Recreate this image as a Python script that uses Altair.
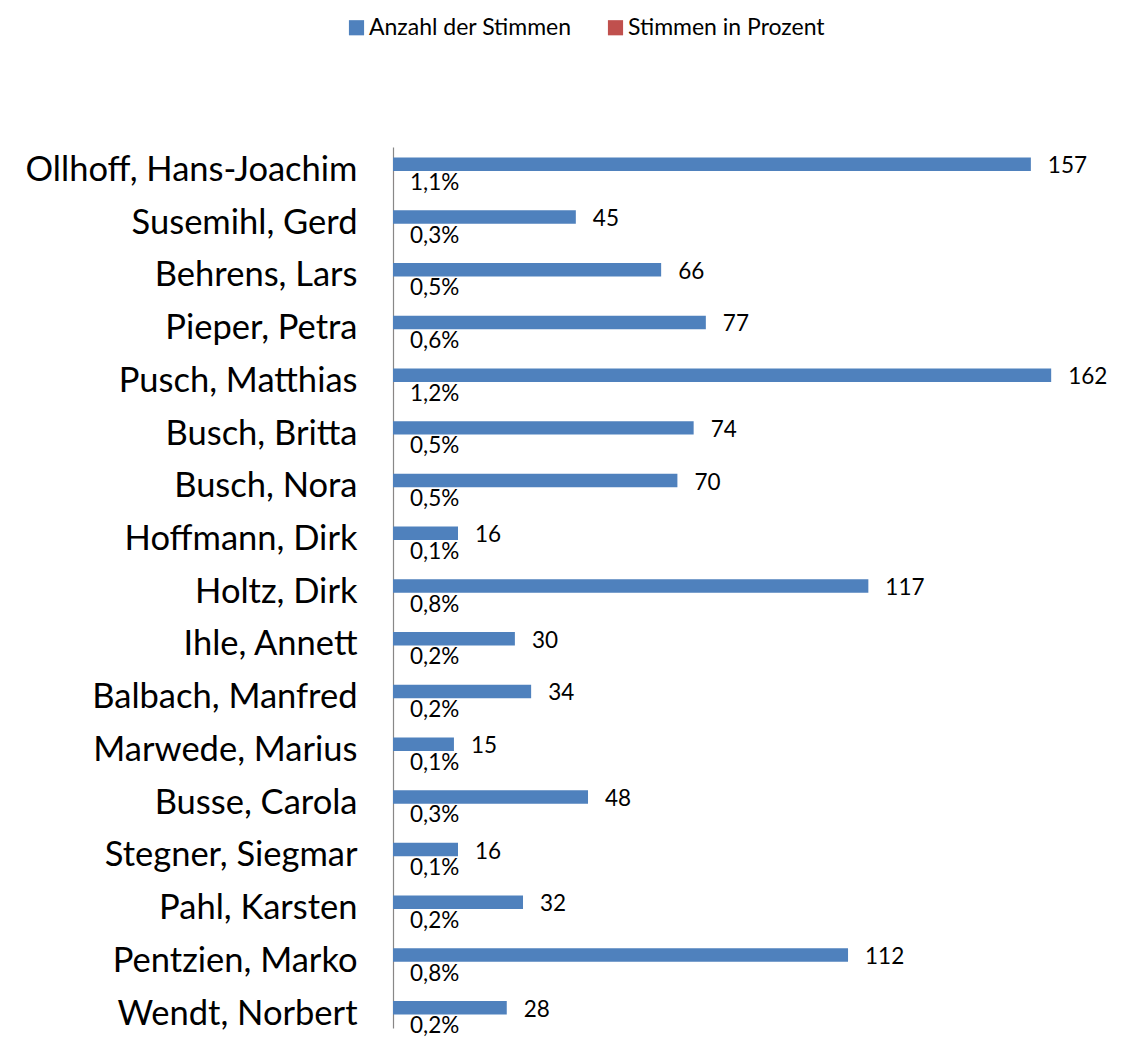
import altair as alt
import pandas as pd

names = [
    "Ollhoff, Hans-Joachim", "Susemihl, Gerd", "Behrens, Lars", "Pieper, Petra",
    "Pusch, Matthias", "Busch, Britta", "Busch, Nora", "Hoffmann, Dirk",
    "Holtz, Dirk", "Ihle, Annett\u00a0", "Balbach, Manfred\u00a0", "Marwede, Marius",
    "Busse, Carola", "Stegner, Siegmar\u00a0", "Pahl, Karsten", "Pentzien, Marko",
    "Wendt, Norbert",
]
votes = [157, 45, 66, 77, 162, 74, 70, 16, 117, 30, 34, 15, 48, 16, 32, 112, 28]
percent = [1.1, 0.3, 0.5, 0.6, 1.2, 0.5, 0.5, 0.1, 0.8, 0.2, 0.2, 0.1, 0.3, 0.1, 0.2, 0.8, 0.2]
series = ["Anzahl der Stimmen", "Stimmen in Prozent"]
colors = ["#4F81BD", "#C0504D"]

rows = []
for n, v, p in zip(names, votes, percent):
    rows.append({"name": n, "series": series[0], "value": v, "label": str(v)})
    rows.append({"name": n, "series": series[1], "value": p / 100.0,
                 "label": f"{p:.1f}".replace(".", ",") + "%"})
df = pd.DataFrame(rows)

FONT = "Lato"

y_enc = alt.Y("name:N", sort=names, title=None,
              scale=alt.Scale(paddingInner=0.488, paddingOuter=0.1, align=1),
              axis=alt.Axis(labelFontSize=34.5, labelFont=FONT, labelColor="#000000",
                            labelPadding=36, ticks=False, domainColor="#888888",
                            domainWidth=1.2, labelLimit=500))
x_enc = alt.X("value:Q", title=None, axis=None,
              scale=alt.Scale(domain=[0, 175], nice=False, zero=True))
yoff = alt.YOffset("series:N", sort=series,
                   scale=alt.Scale(paddingInner=0, paddingOuter=0))

base = alt.Chart(df)

bars = base.mark_bar().encode(
    y=y_enc, x=x_enc, yOffset=yoff,
    color=alt.Color("series:N", sort=series,
                    scale=alt.Scale(domain=series, range=colors),
                    legend=alt.Legend(title=None, orient="none", direction="horizontal",
                                      legendX=-48, legendY=-131,
                                      symbolType="square", symbolSize=230,
                                      symbolStrokeWidth=0, labelFontSize=23,
                                      labelFont=FONT, labelColor="#000000",
                                      labelLimit=400,
                                      labelOffset=1, columnPadding=32)),
)

txt_votes = base.transform_filter(alt.datum.series == series[0]).mark_text(
    align="left", baseline="middle", dx=17, dy=2, fontSize=22.5, font=FONT, color="#000000"
).encode(y=y_enc, x=x_enc, yOffset=yoff, text="label:N")

txt_pct = base.transform_filter(alt.datum.series == series[1]).mark_text(
    align="left", baseline="middle", dx=17, dy=5, fontSize=22.5, font=FONT, color="#000000"
).encode(y=y_enc, x=x_enc, yOffset=yoff, text="label:N")

chart = alt.layer(bars, txt_votes, txt_pct).properties(
    width=711, height=881,
    autosize=alt.AutoSizeParams(type="none"),
    padding={"left": 385, "top": 139, "right": 8, "bottom": 14},
).configure_view(stroke=None)

chart.save("out.html", embed_options={"renderer": "svg", "actions": False})
